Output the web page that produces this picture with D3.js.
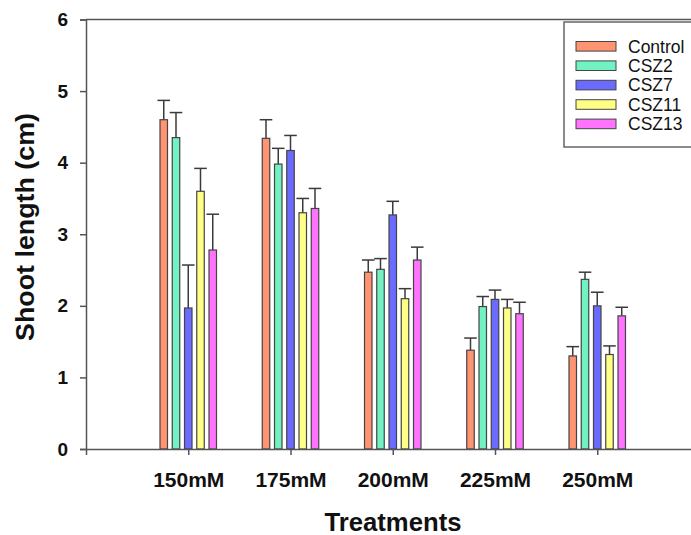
<!DOCTYPE html>
<html>
<head>
<meta charset="utf-8">
<script src="https://cdn.jsdelivr.net/npm/d3@7"></script>
<style>
  body { margin: 0; background: #fff; }
  text { font-family: "Liberation Sans", Arial, sans-serif; }
</style>
</head>
<body>
<script>
// Data
const treatments = ["150mM", "175mM", "200mM", "225mM", "250mM"];
const series = ["Control", "CSZ2", "CSZ7", "CSZ11", "CSZ13"];
const colors = ["#ff9473", "#72f2c2", "#6b6bff", "#ffff86", "#ff73ff"];

const control = [4.60, 4.34, 2.47, 1.38, 1.30];
const csz2    = [4.35, 3.98, 2.51, 1.99, 2.37];
const csz7    = [1.97, 4.17, 3.27, 2.09, 2.00];
const csz11   = [3.60, 3.30, 2.10, 1.97, 1.32];
const csz13   = [2.78, 3.36, 2.64, 1.89, 1.86];

const controlErr = [0.27, 0.26, 0.17, 0.17, 0.13];
const csz2Err    = [0.35, 0.22, 0.15, 0.14, 0.10];
const csz7Err    = [0.60, 0.21, 0.19, 0.13, 0.19];
const csz11Err   = [0.32, 0.20, 0.14, 0.12, 0.12];
const csz13Err   = [0.50, 0.28, 0.18, 0.16, 0.12];

const yTicks = [0, 1, 2, 3, 4, 5, 6];

const values = [control, csz2, csz7, csz11, csz13];
const errors = [controlErr, csz2Err, csz7Err, csz11Err, csz13Err];

// flat list of bars
const bars = [];
treatments.forEach((t, i) => {
    series.forEach((s, j) => {
        bars.push({ group: i + 1, series: s, color: colors[j], value: values[j][i], err: errors[j][i] });
    });
});

const width = 691;
const height = 535;

const svg = d3.select("body")
    .append("svg")
    .attr("width", width)
    .attr("height", height);

// Scales (frame runs off the right edge like the original)
const x = d3.scaleLinear().domain([0, 6]).range([86, 699.5]);
const y = d3.scaleLinear().domain([0, 6]).range([449, 19.5]);
const offset = d3.scalePoint().domain(series).range([-24.5, 24.5]);
const barW = 7.5;
const axisColor = "#555";

// top frame line
svg.append("line")
    .attr("x1", x(0)).attr("x2", x(6))
    .attr("y1", y(6)).attr("y2", y(6))
    .attr("stroke", axisColor).attr("stroke-width", 1.5);

// Y axis
const yAxis = svg.append("g")
    .attr("transform", `translate(${x(0)},0)`)
    .call(d3.axisLeft(y).tickValues(yTicks).tickFormat(d3.format("d")).tickSize(6).tickPadding(12));
yAxis.select(".domain").attr("stroke", axisColor).attr("stroke-width", 1.5);
yAxis.selectAll(".tick line").attr("stroke", axisColor).attr("stroke-width", 1.5);
yAxis.selectAll(".tick text")
    .attr("fill", "#111")
    .style("font-size", "19px")
    .style("font-weight", "bold")
    .style("font-family", "'Liberation Sans', Arial, sans-serif");

// Error bars (upper only)
const errG = svg.append("g")
    .attr("stroke", "#3a3a3a")
    .attr("stroke-width", 1.5);
errG.selectAll("line.stem")
    .data(bars)
    .join("line")
    .attr("class", "stem")
    .attr("x1", d => x(d.group) + offset(d.series))
    .attr("x2", d => x(d.group) + offset(d.series))
    .attr("y1", d => y(d.value))
    .attr("y2", d => y(d.value + d.err));
errG.selectAll("line.cap")
    .data(bars)
    .join("line")
    .attr("class", "cap")
    .attr("x1", d => x(d.group) + offset(d.series) - 6.3)
    .attr("x2", d => x(d.group) + offset(d.series) + 6.3)
    .attr("y1", d => y(d.value + d.err))
    .attr("y2", d => y(d.value + d.err));

// Bars
svg.append("g")
    .selectAll("rect")
    .data(bars)
    .join("rect")
    .attr("x", d => x(d.group) + offset(d.series) - barW / 2)
    .attr("y", d => y(d.value))
    .attr("width", barW)
    .attr("height", d => y(0) - y(d.value))
    .attr("fill", d => d.color)
    .attr("stroke", "#444")
    .attr("stroke-width", 1.2);

// X axis
const xAxis = svg.append("g")
    .attr("transform", `translate(0,${y(0)})`)
    .call(d3.axisBottom(x).tickValues([1, 2, 3, 4, 5]).tickFormat(d => treatments[d - 1]).tickSize(6).tickPadding(17));
xAxis.select(".domain").attr("stroke", axisColor).attr("stroke-width", 1.5);
xAxis.selectAll(".tick line").attr("stroke", axisColor).attr("stroke-width", 1.5);
xAxis.selectAll(".tick text")
    .attr("fill", "#111")
    .style("font-size", "21px")
    .style("font-weight", "bold")
    .style("font-family", "'Liberation Sans', Arial, sans-serif");

// Axis titles
svg.append("text")
    .attr("transform", "translate(33.5,227) rotate(-90)")
    .attr("text-anchor", "middle")
    .attr("fill", "#111")
    .attr("textLength", 228)
    .attr("lengthAdjust", "spacingAndGlyphs")
    .style("font-size", "25px")
    .style("font-weight", "bold")
    .text("Shoot length (cm)");

svg.append("text")
    .attr("x", 393)
    .attr("y", 531)
    .attr("text-anchor", "middle")
    .attr("fill", "#111")
    .attr("textLength", 137)
    .attr("lengthAdjust", "spacingAndGlyphs")
    .style("font-size", "25px")
    .style("font-weight", "bold")
    .text("Treatments");

// Legend
const legend = svg.append("g");
legend.append("rect")
    .attr("x", 564).attr("y", 22)
    .attr("width", 140).attr("height", 125)
    .attr("fill", "#fff")
    .attr("stroke", "#666")
    .attr("stroke-width", 1.5);

const item = legend.selectAll("g.item")
    .data(series)
    .join("g")
    .attr("class", "item")
    .attr("transform", (d, i) => `translate(576,${46.3 + i * 19.4})`);
item.append("rect")
    .attr("x", 0).attr("y", -4.8)
    .attr("width", 40).attr("height", 9.6)
    .attr("fill", (d, i) => colors[i])
    .attr("stroke", "#444")
    .attr("stroke-width", 1);
item.append("text")
    .attr("x", 52)
    .attr("y", 6.2)
    .attr("fill", "#111")
    .style("font-size", "17.5px")
    .text(d => d);
</script>
</body>
</html>
